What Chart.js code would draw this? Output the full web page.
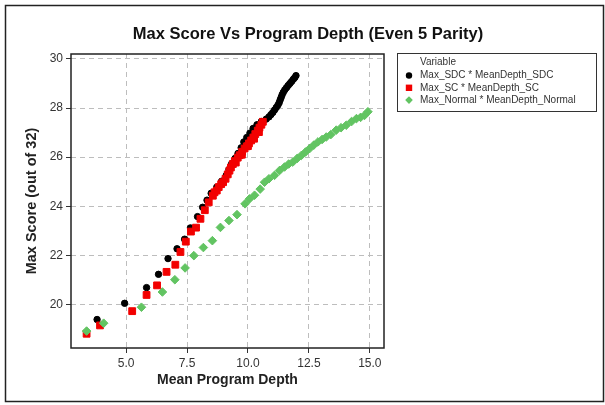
<!DOCTYPE html>
<html>
<head>
<meta charset="utf-8">
<script src="https://cdn.jsdelivr.net/npm/chart.js@4"></script>
<style>
  html, body { margin: 0; padding: 0; background: #fff; }
</style>
</head>
<body>
<canvas id="chart" width="605" height="405"></canvas>
<script>
// values
const sdcDepth = [3.81, 4.94, 5.84, 6.33, 6.72, 7.09, 7.40, 7.64, 7.93, 8.14, 8.32, 8.49, 8.72, 8.92, 9.11, 9.22, 9.33, 9.47, 9.59, 9.72, 9.83, 9.95, 10.08, 10.21, 10.37, 10.55, 10.75, 10.86, 10.94, 11.02, 11.09, 11.16, 11.23, 11.28, 11.32, 11.36, 11.40, 11.45, 11.51, 11.58, 11.65, 11.72, 11.79, 11.86, 11.92, 11.97];
const sdcScore = [19.39, 20.05, 20.69, 21.23, 21.87, 22.27, 22.66, 23.12, 23.58, 23.96, 24.25, 24.53, 24.78, 25.02, 25.26, 25.50, 25.73, 25.95, 26.15, 26.38, 26.62, 26.80, 26.98, 27.17, 27.32, 27.45, 27.55, 27.64, 27.73, 27.82, 27.92, 28.02, 28.12, 28.22, 28.33, 28.43, 28.54, 28.64, 28.74, 28.83, 28.92, 29.00, 29.08, 29.17, 29.24, 29.32];

const scDepth = [3.38, 3.93, 5.25, 5.84, 6.27, 6.66, 7.02, 7.23, 7.45, 7.66, 7.87, 8.05, 8.23, 8.39, 8.56, 8.63, 8.72, 8.80, 8.90, 8.98, 9.08, 9.17, 9.24, 9.30, 9.38, 9.46, 9.50, 9.58, 9.66, 9.75, 9.76, 9.86, 9.95, 10.00, 10.04, 10.13, 10.22, 10.25, 10.30, 10.40, 10.45, 10.47, 10.55, 10.61];
const scScore = [18.81, 19.15, 19.73, 20.39, 20.78, 21.33, 21.62, 22.14, 22.56, 22.97, 23.13, 23.49, 23.84, 24.16, 24.43, 24.57, 24.64, 24.78, 24.90, 24.98, 25.12, 25.30, 25.45, 25.58, 25.72, 25.84, 25.78, 25.98, 26.08, 26.10, 26.22, 26.35, 26.44, 26.45, 26.56, 26.68, 26.80, 26.75, 26.94, 27.08, 27.02, 27.20, 27.32, 27.44];

const normalDepth = [3.38, 4.08, 5.63, 6.49, 7.00, 7.42, 7.78, 8.17, 8.54, 8.87, 9.22, 9.55, 9.88, 10.06, 10.27, 10.50, 10.68, 10.86, 11.09, 11.30, 11.50, 11.67, 11.84, 12.02, 12.19, 12.36, 12.53, 12.70, 12.87, 13.04, 13.21, 13.40, 13.62, 13.82, 14.03, 14.25, 14.45, 14.62, 14.78, 14.92];
const normalScore = [18.92, 19.24, 19.89, 20.51, 21.01, 21.49, 21.99, 22.32, 22.60, 23.14, 23.42, 23.66, 24.10, 24.30, 24.45, 24.70, 24.98, 25.12, 25.26, 25.46, 25.60, 25.72, 25.80, 25.95, 26.07, 26.21, 26.35, 26.49, 26.62, 26.72, 26.82, 26.92, 27.10, 27.20, 27.30, 27.45, 27.57, 27.62, 27.70, 27.85];

const seriesNames = ['Max_SDC * MeanDepth_SDC', 'Max_SC * MeanDepth_SC', 'Max_Normal * MeanDepth_Normal'];
const seriesColors = ['#000000', '#f20000', '#62c462'];
const seriesShapes = ['circle', 'rect', 'rectRot'];

const xTicks = [5.0, 7.5, 10.0, 12.5, 15.0];
const yTicks = [20, 22, 24, 26, 28, 30];

const FONT = "'Liberation Sans', Arial, sans-serif";

function toPoints(xs, ys) {
  return xs.map((x, i) => ({ x: x, y: ys[i] }));
}

// white background, outer frame, title and box round the plot
const framePlugin = {
  id: 'frame',
  beforeDraw(chart) {
    const ctx = chart.ctx;
    ctx.save();
    ctx.fillStyle = '#fff';
    ctx.fillRect(0, 0, chart.width, chart.height);
    ctx.strokeStyle = '#222';
    ctx.lineWidth = 1.5;
    ctx.strokeRect(5.5, 5.5, 598, 396);
    ctx.fillStyle = '#111';
    ctx.font = 'bold 16.5px ' + FONT;
    ctx.textAlign = 'center';
    ctx.textBaseline = 'middle';
    ctx.fillText('Max Score Vs Program Depth (Even 5 Parity)', 308, 34);
    ctx.restore();
  },
  beforeDatasetsDraw(chart) {
    const a = chart.chartArea;
    const ctx = chart.ctx;
    ctx.save();
    ctx.strokeStyle = '#222';
    ctx.lineWidth = 1.5;
    ctx.strokeRect(a.left, a.top, a.right - a.left, a.bottom - a.top);
    ctx.restore();
  }
};

function drawMarker(ctx, shape, x, y, r) {
  ctx.beginPath();
  if (shape === 'circle') {
    ctx.arc(x, y, r, 0, Math.PI * 2);
  } else if (shape === 'rect') {
    ctx.rect(x - r, y - r, r * 2, r * 2);
  } else {
    ctx.moveTo(x, y - r * 1.2);
    ctx.lineTo(x + r * 1.2, y);
    ctx.lineTo(x, y + r * 1.2);
    ctx.lineTo(x - r * 1.2, y);
    ctx.closePath();
  }
  ctx.fill();
}

// boxed legend at the right, like the original
const boxLegend = {
  id: 'boxLegend',
  afterDraw(chart) {
    const ctx = chart.ctx;
    ctx.save();
    ctx.strokeStyle = '#333';
    ctx.lineWidth = 1;
    ctx.strokeRect(397.5, 53.5, 199, 58);
    ctx.font = '10px ' + FONT;
    ctx.textAlign = 'left';
    ctx.textBaseline = 'middle';
    ctx.fillStyle = '#333';
    ctx.fillText('Variable', 420, 62.5);
    seriesNames.forEach((name, i) => {
      const y = 75.5 + i * 12.3;
      ctx.fillStyle = seriesColors[i];
      drawMarker(ctx, seriesShapes[i], 409, y, 3.2);
      ctx.fillStyle = '#333';
      ctx.fillText(name, 420, y);
    });
    ctx.restore();
  }
};

// dataset 0 is painted last, so green sits on top, then red, then black
const ctx = document.getElementById('chart').getContext('2d');
new Chart(ctx, {
  type: 'scatter',
  data: {
    datasets: [
      {
        label: seriesNames[2],
        data: toPoints(normalDepth, normalScore),
        pointStyle: 'rectRot',
        pointRadius: 4.3,
        backgroundColor: seriesColors[2],
        borderColor: seriesColors[2],
        borderWidth: 1
      },
      {
        label: seriesNames[1],
        data: toPoints(scDepth, scScore),
        pointStyle: 'rect',
        pointRadius: 4.8,
        backgroundColor: seriesColors[1],
        borderColor: seriesColors[1],
        borderWidth: 1
      },
      {
        label: seriesNames[0],
        data: toPoints(sdcDepth, sdcScore),
        pointStyle: 'circle',
        pointRadius: 3.2,
        backgroundColor: seriesColors[0],
        borderColor: seriesColors[0],
        borderWidth: 1
      }
    ]
  },
  options: {
    responsive: false,
    animation: false,
    layout: { padding: { top: 54, right: 221, bottom: 0, left: 0 } },
    plugins: {
      legend: { display: false },
      tooltip: { enabled: false }
    },
    scales: {
      x: {
        type: 'linear',
        min: 2.74,
        max: 15.58,
        afterBuildTicks: s => { s.ticks = xTicks.map(v => ({ value: v })); },
        afterFit: s => { s.height = 57; },
        ticks: {
          callback: v => v.toFixed(1),
          font: { family: FONT, size: 12 },
          color: '#333',
          padding: 3,
          maxRotation: 0
        },
        grid: { color: '#bdbdbd', tickColor: '#333', tickLength: 5, lineWidth: 1 },
        border: { display: false, dash: [5, 4] },
        title: {
          display: true,
          text: 'Mean Program Depth',
          font: { family: FONT, size: 14, weight: 'bold' },
          color: '#222',
          padding: { top: 0, bottom: 16 }
        }
      },
      y: {
        min: 18.23,
        max: 30.2,
        afterBuildTicks: s => { s.ticks = yTicks.map(v => ({ value: v })); },
        afterFit: s => { s.width = 71; },
        ticks: {
          font: { family: FONT, size: 12 },
          color: '#333',
          padding: 3
        },
        grid: { color: '#bdbdbd', tickColor: '#333', tickLength: 5, lineWidth: 1 },
        border: { display: false, dash: [5, 4] },
        title: {
          display: true,
          text: 'Max Score (out of 32)',
          font: { family: FONT, size: 14.5, weight: 'bold' },
          color: '#222',
          padding: { top: 23, bottom: 0 }
        }
      }
    }
  },
  plugins: [framePlugin, boxLegend]
});
</script>
</body>
</html>
